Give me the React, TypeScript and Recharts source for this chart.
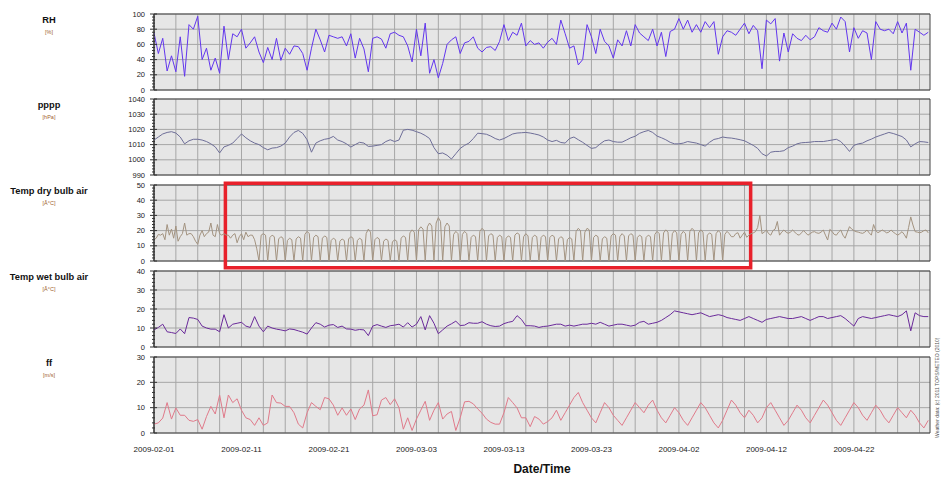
import { LineChart, Line, XAxis, YAxis, CartesianGrid, ReferenceArea } from "recharts"

// x values are days since 2009-02-01 00:00
const X_END = 88.7
const dateLabels = ["2009-02-01", "2009-02-11", "2009-02-21", "2009-03-03", "2009-03-13", "2009-03-23", "2009-04-02", "2009-04-12", "2009-04-22"]
const labelDays = [0, 10, 20, 30, 40, 50, 60, 70, 80]
const gridDays = Array.from({ length: 36 }, (_, i) => i * 2.5)

// every 12 h
const rhValues = [
  75, 48, 68, 25, 45, 24, 70, 18, 86, 80, 97, 40, 55, 26, 42, 22, 84, 40, 74, 70,
  80, 55, 62, 70, 50, 36, 56, 40, 68, 39, 55, 47, 58, 57, 48, 26, 55, 80, 66, 50,
  72, 70, 68, 70, 58, 74, 42, 68, 54, 24, 68, 70, 67, 55, 74, 76, 72, 70, 58, 37,
  80, 45, 88, 22, 40, 16, 35, 60, 66, 70, 48, 62, 64, 70, 55, 50, 56, 57, 52, 64,
  86, 65, 76, 72, 88, 58, 65, 60, 62, 55, 63, 68, 60, 92, 74, 55, 58, 33, 40, 86,
  70, 48, 80, 64, 58, 42, 66, 58, 78, 58, 86, 75, 70, 65, 80, 58, 76, 44, 77, 80,
  94, 80, 92, 76, 86, 76, 90, 82, 90, 47, 70, 78, 76, 72, 80, 88, 74, 85, 78, 28,
  92, 87, 94, 38, 75, 50, 74, 68, 65, 72, 66, 70, 82, 78, 76, 88, 80, 96, 90, 50,
  82, 68, 78, 75, 40, 90, 80, 78, 80, 74, 90, 75, 88, 26, 80, 76, 72, 76,
]

// every 12 h
const ppppValues = [
  1013, 1015, 1017, 1018, 1018.5, 1017.6, 1015, 1010.5, 1012.5, 1013.5,
  1013.5, 1013, 1012, 1010.5, 1008.5, 1004.5, 1008.5, 1009.5, 1011, 1014,
  1017, 1014.5, 1012.5, 1011, 1010, 1008, 1006.6, 1007.7, 1008, 1009,
  1011, 1015, 1018, 1019.3, 1017.4, 1013.2, 1005, 1011, 1012.5, 1013.5,
  1014, 1015.4, 1013, 1012, 1010.5, 1008.4, 1010, 1011.5, 1011, 1008.8,
  1009, 1009.5, 1010, 1012, 1013.2, 1012, 1013, 1019.5, 1020, 1019.5,
  1018.5, 1017.5, 1016, 1014, 1008, 1004, 1004.5, 1003, 1000.5, 1004,
  1007.5, 1009.5, 1011, 1014, 1017.5, 1017.2, 1016.8, 1015.6, 1014, 1013,
  1014, 1015.5, 1017, 1017.6, 1017.8, 1018, 1017.6, 1017, 1016.3, 1015,
  1013, 1012, 1012.8, 1011.4, 1011, 1014, 1015, 1013.2, 1011.5, 1009.5,
  1007.5, 1008, 1010.5, 1012.5, 1013, 1012, 1011.6, 1011.6, 1013, 1014.5,
  1015.5, 1017.4, 1018.5, 1019.3, 1018, 1015.6, 1014.5, 1013.2, 1011.5, 1010.5,
  1010.5, 1011, 1012, 1011.5, 1011, 1010, 1009, 1011.5, 1013.4, 1014,
  1015, 1014.5, 1014.3, 1013.8, 1013.2, 1012.5, 1011, 1009.5, 1007.5, 1004,
  1002.5, 1005, 1005.5, 1005.5, 1006, 1008, 1009, 1010.5, 1011.2, 1011.4,
  1011.6, 1012, 1012, 1012, 1012.5, 1013, 1013.5, 1012, 1009, 1005.5,
  1009.5, 1010.5, 1011, 1012.5, 1013.6, 1015, 1016, 1017, 1018, 1017.3,
  1016.3, 1015.3, 1013, 1008.5, 1010.5, 1012, 1011.8, 1011.4,
]

// every 6 h
const dryValues = [
  14, 15, 17.5, 17, 18, 14, 24, 17, 21, 15, 23, 13, 16, 18, 25, 17, 18, 18, 16, 13,
  11, 17, 20, 16, 18, 19, 25, 17, 16, 24, 18, 17, 18, 17, 17, 15, 17, 18, 12, 16,
  18, 14, 19, 16, 17, 17, 14, 8,
  0, 17, 18, 17, 0, 15.5, 17, 16, 0, 14.5, 16, 15, 0, 13.5, 15, 14,
  0, 14.5, 16, 15, 0, 17.5, 19.5, 18, 0, 15.5, 17, 16, 0, 15, 16.5, 15.5,
  0, 13.5, 15, 14, 0, 13, 14.5, 13.5, 0, 14.5, 16, 15, 0, 13.5, 15, 14,
  0, 18, 21, 19, 0, 14, 15.5, 14.5, 0, 13, 14.5, 13.5, 0, 12.5, 14, 13,
  0, 15, 16.5, 15.5, 0, 18.5, 20.5, 19, 0, 20.5, 22.5, 21, 0, 22.5, 25, 23,
  0, 25, 28.5, 26, 0, 22.5, 25, 23, 0, 17.5, 19.5, 18, 0, 17.5, 19.5, 18,
  0, 15.5, 17, 16, 0, 19.5, 21.5, 20, 0, 16.5, 18, 17, 0, 15.5, 17, 16,
  0, 15, 16.5, 15.5, 0, 17, 18.5, 17.5, 0, 16, 18, 16.5, 0, 15.5, 17, 16,
  0, 15.5, 17, 16, 0, 15.5, 17, 16, 0, 14.5, 16, 15, 0, 14, 15.5, 14.5,
  0, 19.5, 21.5, 20, 0, 19, 21.5, 20.5, 0, 15.5, 17, 16, 0, 14.5, 16, 15,
  0, 16.5, 18, 17, 0, 16, 18, 16.5, 0, 16.5, 18, 17, 0, 15.5, 17, 16,
  0, 15.5, 17, 16, 0, 17.5, 19.5, 18, 0, 18.5, 20.5, 19, 0, 18, 20, 18.5,
  0, 17.5, 19.5, 18, 0, 19.5, 21.5, 20, 0, 18.5, 20.5, 19, 0, 17, 18.5, 17.5,
  0, 18, 20, 18.5, 0, 17.5, 19.5, 18,
  16, 16, 18, 18.6, 15, 17, 19, 15.6, 17, 18, 18.5, 19.3, 22, 30, 18, 19, 20.4, 18, 17, 20,
  21, 26, 17, 19, 20.4, 19, 18.2, 19, 20.4, 19, 17.5, 17, 18.5, 20, 18.5, 17, 18, 19, 19.3, 18.5,
  18.2, 19, 20.4, 17, 13.8, 20.8, 19.5, 17.5, 17, 19, 20.4, 17, 15, 19, 22.6, 21, 20, 19.3, 19, 18.5,
  18.2, 19, 20.4, 18.5, 17, 24, 20, 18.6, 19.5, 20.4, 19.5, 18.5, 19, 20.4, 19, 18, 17, 18, 19.3, 17.5,
  15, 22, 29, 23.7, 19.3, 19, 18.6, 19, 20, 20.4, 18.5,
]

// every 12 h
const wetValues = [
  9, 10.3, 12, 8, 7.6, 7.1, 9.5, 7, 15.5, 15.2, 14.5, 11, 10, 9.4, 9.4, 8, 17, 10, 12, 12.5,
  13, 11, 10.3, 16, 11, 8, 11, 10, 9.4, 9, 8.5, 9.5, 9.2, 8.5, 7.8, 6.8, 10, 12.8, 12, 10.5,
  11.5, 11.8, 10.3, 11, 9.5, 9.4, 8.8, 9.2, 9, 6, 11, 11.8, 11, 10.3, 11.2, 11.5, 12, 10.5, 12.8, 10.5,
  12, 16, 9, 16.5, 12.5, 7, 9, 11, 12.2, 13.6, 11.3, 11.5, 12.8, 12.5, 12.5, 13.3, 12, 11.2, 10.8, 11,
  12.3, 13, 13.5, 16.5, 14.5, 11.2, 11.2, 11, 10.3, 10.8, 11, 11.5, 12, 12, 11, 11.5, 11, 11.5, 12, 12,
  12.5, 12, 13, 12, 11, 11.5, 12, 12, 11.5, 11, 11.5, 13, 13.5, 12, 12.5, 13, 14, 15.5, 17, 19,
  18.5, 18, 17.5, 17, 17.5, 18, 17, 16, 16.5, 17, 16.5, 15.5, 15, 14.5, 14, 15, 16, 15, 14, 13,
  14.5, 15, 15.5, 16, 15.5, 15, 15, 15.5, 16, 15, 14, 15, 16, 16, 15, 15.5, 16, 16.5, 15, 13,
  11, 15, 16, 15.5, 15, 15.5, 16, 16.5, 17, 16.5, 16, 17, 19, 8.5, 18, 16.5, 16, 16,
]

// every 12 h
const ffValues = [
  3.5, 4, 5.9, 12, 5.5, 9.9, 7, 7, 5, 4.6, 5.3, 1.5, 6.5, 10.5, 7.5, 15, 6, 15, 12, 13.5,
  9, 6, 5.3, 3, 6, 3, 4, 15, 12, 11.8, 10.5, 10.5, 8, 3.5, 2, 8, 12, 10.5, 9.2, 14,
  13.5, 11, 7, 9.9, 7, 9.5, 5.3, 9.5, 11, 17, 6.8, 7.2, 13, 14, 11.2, 13.5, 10, 1.5, 6, 1,
  5.5, 9, 12.5, 5, 9, 12, 5.5, 7.5, 8.5, 1, 6, 12.3, 12.5, 11.5, 9.5, 7.8, 5.5, 4.2, 3.5, 3.5,
  8, 14, 12, 9.9, 6, 6, 2.5, 6.5, 5.5, 3.5, 4.5, 6, 9, 5, 8, 11, 14, 16, 12, 9,
  6, 4, 8, 12, 10, 7, 5, 3, 6, 9, 12, 10, 8, 11, 13, 9, 6, 4, 7, 10,
  8, 5, 3, 6, 9, 12, 10, 7, 4, 2, 5, 9, 13, 11, 8, 6, 9, 7, 4, 6,
  10, 12, 9, 6, 3, 5, 8, 11, 9, 6, 4, 7, 10, 13, 11, 8, 5, 3, 6, 9,
  12, 10, 7, 5, 8, 11, 9, 6, 4, 7, 10, 8, 6, 9, 7, 4, 2, 5,
]

// red highlight around the dry-bulb section (days / degC)
const boxDays = [8.16, 68.2]
const boxTemps = [-4.4, 51.1]

const FONT = "'Liberation Sans', Arial, sans-serif"
const PLOT_H = 76
const M_TOP = 8
const M_BOT = 10
const AXIS_X = 154

const toRows = (values: number[], step: number) => values.map((v, i) => ({ t: i * step, v }))

const YTick = (props: any) => {
  const { x, y, payload, major } = props
  const isMajor = major.includes(payload.value)
  return (
    <g>
      <line x1={x - (isMajor ? 4 : 2)} x2={x + (isMajor ? 3 : 1)} y1={y} y2={y} stroke="#333" />
      {isMajor && (
        <text x={x - 9} y={y} dy={2.6} textAnchor="end" fontSize={7.5} fill="#222" fontFamily={FONT}>
          {payload.value}
        </text>
      )}
    </g>
  )
}

interface PanelProps {
  title: string
  unit: string
  top: number
  values: number[]
  step: number
  color: string
  domain: [number, number]
  major: number[]
  minorStep: number
  last?: boolean
  box?: boolean
  topTicks?: boolean
}

const Panel = (p: PanelProps) => {
  const rows = toRows(p.values, p.step)
  const minor: number[] = []
  for (let v = p.domain[0]; v <= p.domain[1] + 1e-6; v += p.minorStep) minor.push(Math.round(v * 100) / 100)
  const xAxisH = p.last ? 40 : 0
  const height = M_TOP + PLOT_H + (p.last ? xAxisH : M_BOT)
  return (
    <>
      <div style={{ position: "absolute", left: 0, top: p.top - M_TOP }}>
        <LineChart width={942} height={height} data={rows} margin={{ top: M_TOP, right: 12, bottom: p.last ? 0 : M_BOT, left: 0 }}>
          <CartesianGrid fill="#e6e6e6" stroke="#a6a6a6" verticalValues={gridDays} horizontalValues={p.major} />
          {p.topTicks && (
            <XAxis xAxisId="top" orientation="top" type="number" dataKey="t" domain={[0, X_END]} allowDataOverflow
              ticks={gridDays} interval={0} height={0} tickSize={3} tickFormatter={() => ""} axisLine={false} stroke="#333" />
          )}
          <XAxis type="number" dataKey="t" domain={[0, X_END]} allowDataOverflow hide={!p.last}
            ticks={labelDays} interval={0} height={xAxisH} tickLine={false} axisLine={false} tickSize={0} tickMargin={13}
            tickFormatter={(d: number) => dateLabels[labelDays.indexOf(d)]}
            tick={{ fontSize: 8, fill: "#222", fontFamily: FONT }} />
          <YAxis type="number" domain={p.domain} allowDataOverflow ticks={minor} interval={0} width={AXIS_X}
            tickLine={false} tickSize={0} tickMargin={0} axisLine={{ stroke: "#333" }}
            tick={(t: any) => <YTick {...t} major={p.major} />} />
          <Line type="linear" dataKey="v" stroke={p.color} strokeWidth={1} dot={false} isAnimationActive={false} />
          <ReferenceArea x1={0} x2={X_END} y1={p.domain[0]} y2={p.domain[1]} fill="none" stroke="#444" />
          {p.box && (
            <ReferenceArea x1={boxDays[0]} x2={boxDays[1]} y1={boxTemps[0]} y2={boxTemps[1]}
              fill="none" stroke="#e8212b" strokeWidth={3.5} ifOverflow="visible" />
          )}
        </LineChart>
      </div>
      <div style={{ position: "absolute", left: 0, width: 98, top: p.top + 1, textAlign: "center", fontWeight: "bold", fontSize: 9.3, color: "#111" }}>
        {p.title}
      </div>
      <div style={{ position: "absolute", left: 0, width: 98, top: p.top + 15, textAlign: "center", fontSize: 5.5, color: "#a0622d" }}>
        {p.unit}
      </div>
    </>
  )
}

export default function App() {
  return (
    <div style={{ position: "absolute", left: 0, top: 0, width: 942, height: 481, background: "#fff", fontFamily: FONT }}>
      <Panel title="RH" unit="[%]" top={14} values={rhValues} step={0.5} color="#6236ee"
        domain={[0, 100]} major={[0, 20, 40, 60, 80, 100]} minorStep={4} topTicks />
      <Panel title="pppp" unit="[hPa]" top={99} values={ppppValues} step={0.5} color="#6e6e98"
        domain={[990, 1040]} major={[990, 1000, 1010, 1020, 1030, 1040]} minorStep={2} />
      <Panel title="Temp dry bulb air" unit="[Â°C]" top={185} values={dryValues} step={0.25} color="#a39380"
        domain={[0, 50]} major={[0, 10, 20, 30, 40, 50]} minorStep={2} box />
      <Panel title="Temp wet bulb air" unit="[Â°C]" top={271} values={wetValues} step={0.5} color="#6a2a9a"
        domain={[0, 40]} major={[0, 10, 20, 30, 40]} minorStep={2} />
      <Panel title="ff" unit="[m/s]" top={357} values={ffValues} step={0.5} color="#e07a8a"
        domain={[0, 30]} major={[0, 10, 20, 30]} minorStep={2} last />
      <div style={{ position: "absolute", left: 442, width: 200, top: 462, textAlign: "center", fontWeight: "bold", fontSize: 12, color: "#111" }}>
        Date/Time
      </div>
      <div style={{ position: "absolute", left: 895, top: 393, width: 84, textAlign: "center", fontSize: 5, color: "#555", transform: "rotate(-90deg)", whiteSpace: "nowrap" }}>
        Weather data: (c) 2011 TOPS/METEO (2010)
      </div>
    </div>
  )
}
